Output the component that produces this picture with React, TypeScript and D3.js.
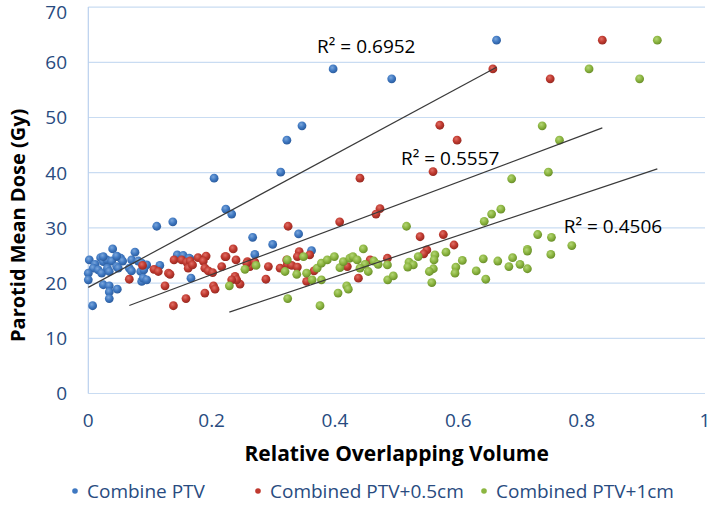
import React from "react";
import * as d3 from "d3";

type Pt = [number, number];

// Combine PTV (blue)
const combinePTV: Pt[] = [
  [0.662, 64.0], [0.397, 58.8], [0.492, 57.0], [0.3465, 48.5], [0.322, 45.9], [0.312, 40.1],
  [0.204, 39.0], [0.223, 33.4], [0.2325, 32.5], [0.137, 31.1], [0.111, 30.3], [0.341, 28.9],
  [0.2665, 28.3], [0.299, 27.0], [0.362, 25.9], [0.27, 25.2], [0.1665, 20.9],
  [0.0395, 26.2], [0.0757, 25.6], [0.0016, 24.2], [0.011, 23.4], [0.02, 24.6], [0.0243, 23.9],
  [0.03, 24.2], [0.038, 24.0], [0.047, 24.8], [0.0525, 24.5], [0.0557, 24.0], [0.0703, 24.2],
  [0.008, 22.7], [0.016, 22.4], [0.0217, 21.8], [0.0, 21.8], [0.0, 20.6], [0.031, 22.7],
  [0.034, 22.1], [0.046, 23.0], [0.0486, 22.7], [0.0665, 22.7], [0.07, 22.2], [0.081, 24.0],
  [0.0866, 23.6], [0.0947, 23.3], [0.085, 22.1], [0.09, 22.4], [0.116, 23.2], [0.0243, 19.7],
  [0.034, 19.5], [0.034, 18.4], [0.034, 17.2], [0.047, 18.9], [0.0866, 20.3], [0.089, 20.9],
  [0.0947, 20.6], [0.007, 15.9], [0.1443, 25.1], [0.154, 25.0], [0.165, 24.4], [0.0243, 24.8],
  [0.046, 24.9], [0.1637, 24.5],
];

// Combined PTV+0.5cm (red)
const combinedPTV05: Pt[] = [
  [0.8335, 64.0], [0.656, 58.8], [0.749, 57.0], [0.57, 48.6], [0.598, 45.9], [0.559, 40.2],
  [0.4405, 39.0], [0.473, 33.5], [0.4665, 32.5], [0.4076, 31.1], [0.324, 30.3], [0.5757, 28.8],
  [0.538, 28.4], [0.593, 26.9], [0.549, 26.0], [0.544, 25.3], [0.235, 26.2], [0.2217, 24.8],
  [0.191, 24.9], [0.342, 25.7], [0.339, 24.8], [0.359, 25.1], [0.258, 23.9], [0.27, 23.8],
  [0.262, 23.0], [0.246, 19.8], [0.292, 23.0], [0.288, 20.7], [0.311, 22.7], [0.3227, 23.4],
  [0.3298, 23.2], [0.339, 22.9], [0.3217, 24.2], [0.354, 20.3], [0.366, 22.2], [0.42, 23.0],
  [0.438, 20.9], [0.457, 24.2], [0.485, 24.5], [0.088, 23.2], [0.0665, 20.7], [0.1065, 22.5],
  [0.1135, 22.1], [0.13, 21.8], [0.1325, 21.6], [0.1244, 19.5], [0.138, 15.9], [0.139, 24.2],
  [0.1584, 17.2], [0.1514, 24.2], [0.1596, 23.8], [0.165, 24.0], [0.162, 22.7], [0.178, 24.6],
  [0.1865, 24.0], [0.189, 22.7], [0.1946, 22.2], [0.2017, 21.9], [0.203, 19.5], [0.2055, 18.9],
  [0.189, 18.2], [0.2233, 24.8], [0.2395, 24.2], [0.2163, 23.0], [0.238, 21.2], [0.2406, 20.6],
  [0.2325, 20.6], [0.257, 23.6], [0.169, 23.3],
];

// Combined PTV+1cm (green)
const combinedPTV1: Pt[] = [
  [0.9227, 64.0], [0.812, 58.8], [0.894, 57.0], [0.736, 48.5], [0.764, 45.9], [0.746, 40.1],
  [0.6865, 38.9], [0.669, 33.4], [0.654, 32.5], [0.642, 31.2], [0.516, 30.3], [0.7287, 28.8],
  [0.751, 28.3], [0.712, 26.1], [0.784, 26.8], [0.446, 26.2], [0.535, 24.8], [0.52, 23.8],
  [0.527, 23.3], [0.518, 22.9], [0.562, 25.1], [0.5606, 24.2], [0.58, 25.6], [0.6065, 24.1],
  [0.596, 22.9], [0.5946, 21.8], [0.5595, 22.6], [0.553, 22.1], [0.557, 20.1], [0.6405, 24.4],
  [0.629, 22.2], [0.6445, 20.7], [0.664, 24.0], [0.688, 24.6], [0.682, 23.0], [0.7, 23.4],
  [0.712, 25.8], [0.712, 22.6], [0.75, 25.2], [0.254, 22.5], [0.272, 23.2], [0.3227, 24.2],
  [0.3233, 17.2], [0.349, 24.8], [0.354, 21.8], [0.363, 20.6], [0.378, 20.6], [0.371, 22.7],
  [0.378, 23.6], [0.3875, 24.2], [0.399, 24.8], [0.3757, 15.9], [0.405, 18.2], [0.419, 19.5],
  [0.4216, 18.9], [0.408, 22.8], [0.4135, 23.9], [0.424, 24.5], [0.429, 24.8], [0.436, 24.2],
  [0.4487, 23.4], [0.4405, 22.7], [0.454, 22.1], [0.463, 24.0], [0.47, 23.4], [0.485, 23.3],
  [0.4855, 20.6], [0.4946, 21.3], [0.2287, 19.5], [0.319, 22.1], [0.338, 21.6],
];

const seriesNames = ["Combine PTV", "Combined PTV+0.5cm", "Combined PTV+1cm"];
const rSquaredLabels = ["R\u00B2 = 0.6952", "R\u00B2 = 0.5557", "R\u00B2 = 0.4506"];
// label anchors in data units (x, y)
const labelAnchorX = [0.371, 0.507, 0.771];
const labelAnchorY = [61.6, 41.4, 29.1];
const xTicks = [0, 0.2, 0.4, 0.6, 0.8, 1];
const yTicks = [0, 10, 20, 30, 40, 50, 60, 70];

const COLORS = ["#3f78c1", "#c0392f", "#8cb641"];
const DARK = ["#2b5c9e", "#962a22", "#6a8f2a"];
const LIGHT = ["#7aa6dc", "#e06f66", "#b4d576"];

const W = 709;
const H = 509;
const PLOT_L = 88.3;
const PLOT_R = 705;
const PLOT_T = 7.1;
const PLOT_B = 393.5;

function fit(data: Pt[]) {
  const mx = d3.mean(data, (d) => d[0]) as number;
  const my = d3.mean(data, (d) => d[1]) as number;
  let sxy = 0;
  let sxx = 0;
  data.forEach(([x, y]) => {
    sxy += (x - mx) * (y - my);
    sxx += (x - mx) * (x - mx);
  });
  const slope = sxy / sxx;
  const intercept = my - slope * mx;
  const [x0, x1] = d3.extent(data, (d) => d[0]) as [number, number];
  return { slope, intercept, x0, x1 };
}

export default function App() {
  const x = d3.scaleLinear().domain([0, 1]).range([PLOT_L, PLOT_R]);
  const y = d3.scaleLinear().domain([0, 70]).range([PLOT_B, PLOT_T]);
  const all = [combinePTV, combinedPTV05, combinedPTV1];
  const fits = all.map(fit);
  const line = d3
    .line<Pt>()
    .x((d) => x(d[0]))
    .y((d) => y(d[1]));
  const font = "'Open Sans', 'Liberation Sans', sans-serif";
  const textColor = "#284b80";
  const legendX = [75, 258, 484];

  return (
    <svg
      width={W}
      height={H}
      style={{ position: "absolute", left: 0, top: 0, background: "#fff" }}
      fontFamily={font}
    >
      <defs>
        {COLORS.map((c, i) => (
          <radialGradient key={i} id={`g${i}`} cx="40%" cy="35%" r="65%">
            <stop offset="0%" stopColor={LIGHT[i]} />
            <stop offset="55%" stopColor={c} />
            <stop offset="100%" stopColor={DARK[i]} />
          </radialGradient>
        ))}
      </defs>
      <rect x={0} y={0} width={W} height={H} fill="#fff" />
      {/* gridlines */}
      {yTicks.map((t) => (
        <line
          key={t}
          x1={PLOT_L}
          x2={PLOT_R}
          y1={y(t)}
          y2={y(t)}
          stroke="#c9dcf2"
          strokeWidth={1.2}
        />
      ))}
      <line x1={PLOT_L} x2={PLOT_L} y1={PLOT_T} y2={PLOT_B} stroke="#b9d0ee" strokeWidth={1.2} />
      {/* y tick labels */}
      {yTicks.map((t) => (
        <text
          key={t}
          x={67}
          y={Math.max(y(t), 12)}
          dy="0.36em"
          textAnchor="end"
          fontSize={19}
          fill={textColor}
        >
          {t}
        </text>
      ))}
      {/* x tick labels */}
      {xTicks.map((t) => (
        <text
          key={t}
          x={x(t)}
          y={420}
          dy="0.36em"
          textAnchor="middle"
          fontSize={19}
          fill={textColor}
        >
          {d3.format("~g")(t)}
        </text>
      ))}
      {/* axis titles */}
      <text
        x={(PLOT_L + PLOT_R) / 2}
        y={453}
        dy="0.36em"
        textAnchor="middle"
        fontSize={21}
        fontWeight="bold"
        fill="#000"
      >
        Relative Overlapping Volume
      </text>
      <text
        transform={`translate(18, ${(PLOT_T + PLOT_B) / 2 + 25}) rotate(-90)`}
        dy="0.36em"
        textAnchor="middle"
        fontSize={20}
        fontWeight="bold"
        fill="#000"
      >
        Parotid Mean Dose (Gy)
      </text>
      {/* markers */}
      {all.map((data, i) => (
        <g key={i}>
          {data.map((d, j) => (
            <circle key={j} cx={x(d[0])} cy={y(d[1])} r={4.4} fill={`url(#g${i})`} />
          ))}
        </g>
      ))}
      {/* trend lines */}
      {fits.map((f, i) => (
        <path
          key={i}
          d={
            line([
              [f.x0, f.intercept + f.slope * f.x0],
              [f.x1, f.intercept + f.slope * f.x1],
            ]) as string
          }
          stroke="#3a3a3a"
          strokeWidth={1.2}
          fill="none"
        />
      ))}
      {/* R² labels */}
      {rSquaredLabels.map((l, i) => (
        <text key={i} x={x(labelAnchorX[i])} y={y(labelAnchorY[i])} fontSize={19} fill="#000">
          {l}
        </text>
      ))}
      {/* legend */}
      {seriesNames.map((n, i) => (
        <g key={n}>
          <circle cx={legendX[i]} cy={491} r={2.8} fill={COLORS[i]} />
          <text x={legendX[i] + 12} y={491} dy="0.36em" fontSize={19} fill={textColor}>
            {n}
          </text>
        </g>
      ))}
    </svg>
  );
}
